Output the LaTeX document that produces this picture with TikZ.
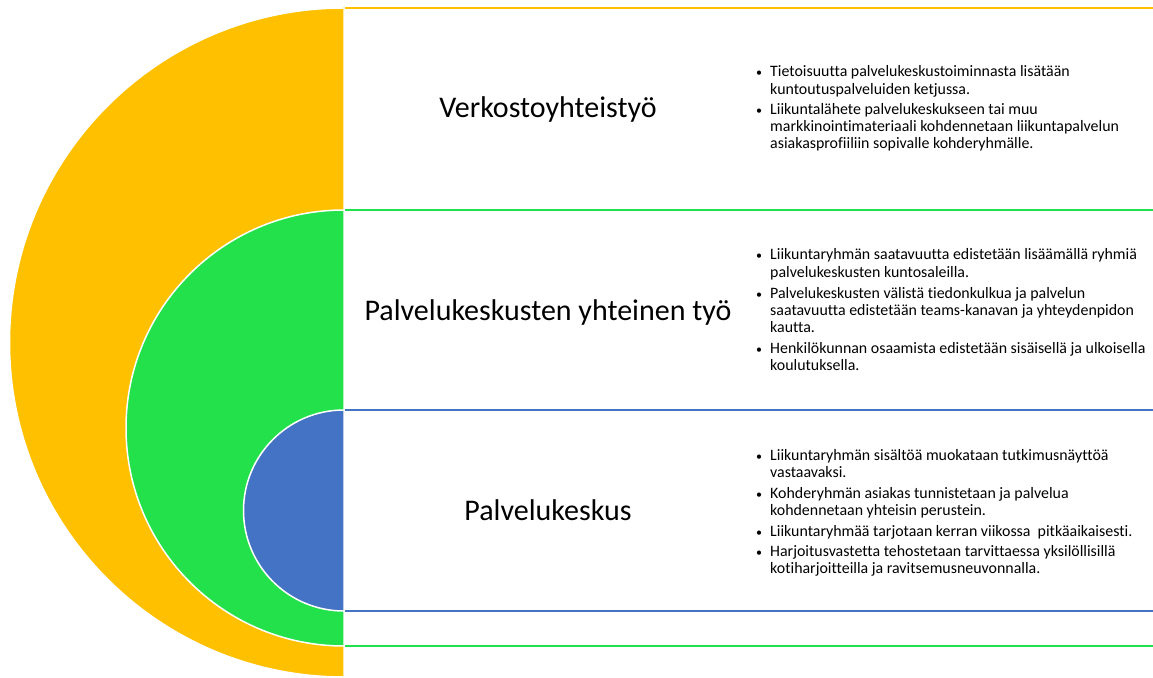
\documentclass[tikz,border=0pt]{standalone}
\usepackage{fontspec}
\setmainfont{Carlito}[Ligatures=NoCommon]
\begin{document}
\definecolor{ringyellow}{RGB}{255,192,0}
\definecolor{ringgreen}{RGB}{35,225,75}
\definecolor{ringblue}{RGB}{68,114,196}
\begin{tikzpicture}[x=1pt,y=1pt,
  band/.style={draw=#1,line width=2.5pt,fill=white},
  halfdisc/.style={fill=#1,draw=white,line width=1.5pt},
  title/.style={font=\fontsize{30}{36}\selectfont,anchor=base,inner sep=0pt},
  dot/.style={font=\fontsize{12}{17}\selectfont,anchor=base west,inner sep=0pt},
  line/.style={font=\fontsize{15.9}{17}\selectfont,anchor=base west,inner sep=0pt}]
\useasboundingbox (0,0) rectangle (1153,-677);
\fill[white] (0,0) rectangle (1153,-677);

% outlined bands, outermost first
\draw[band=ringyellow] (344,-8) rectangle (1170,-700);
\draw[band=ringgreen] (344,-210) rectangle (1170,-646);
\draw[band=ringblue] (344,-410) rectangle (1170,-611);

% nested half discs on the left
\draw[halfdisc=ringyellow] (344,-8) arc[start angle=90,end angle=270,radius=334.5] -- cycle;
\draw[halfdisc=ringgreen] (344,-210) arc[start angle=90,end angle=270,radius=218] -- cycle;
\draw[halfdisc=ringblue] (344,-410) arc[start angle=90,end angle=270,radius=100.5] -- cycle;

% band titles
\node[title] (t1) at (548,-117) {Verkostoyhteistyö};
\node[title] (t2) at (548,-320) {Palvelukeskusten yhteinen työ};
\node[title] (t3) at (548,-520) {Palvelukeskus};

% bullet lists: {bullet?/baseline/text}
\foreach \b/\y/\txt [count=\i] in {
  1/77/{Tietoisuutta palvelukeskustoiminnasta lisätään},
  0/94/{kuntoutuspalveluiden ketjussa.},
  1/114/{Liikuntalähete palvelukeskukseen tai muu},
  0/131/{markkinointimateriaali kohdennetaan liikuntapalvelun},
  0/148/{asiakasprofiiliin sopivalle kohderyhmälle.},
  1/259/{Liikuntaryhmän saatavuutta edistetään lisäämällä ryhmiä},
  0/277/{palvelukeskusten kuntosaleilla.},
  1/298/{Palvelukeskusten välistä tiedonkulkua ja palvelun},
  0/315/{saatavuutta edistetään teams-kanavan ja yhteydenpidon},
  0/332/{kautta.},
  1/353/{Henkilökunnan osaamista edistetään sisäisellä ja ulkoisella},
  0/370/{koulutuksella.},
  1/460/{Liikuntaryhmän sisältöä muokataan tutkimusnäyttöä},
  0/477/{vastaavaksi.},
  1/498/{Kohderyhmän asiakas tunnistetaan ja palvelua},
  0/515/{kohdennetaan yhteisin perustein.},
  1/536/{Liikuntaryhmää tarjotaan kerran viikossa\ \ pitkäaikaisesti.},
  1/556/{Harjoitusvastetta tehostetaan tarvittaessa yksilöllisillä},
  0/573/{kotiharjoitteilla ja ravitsemusneuvonnalla.}
}{
  \ifnum\b=1 \node[dot] (d\i) at (756,-\y) {•};\fi
  \node[line] (l\i) at (770,-\y) {\txt};
}
\end{tikzpicture}
\end{document}
